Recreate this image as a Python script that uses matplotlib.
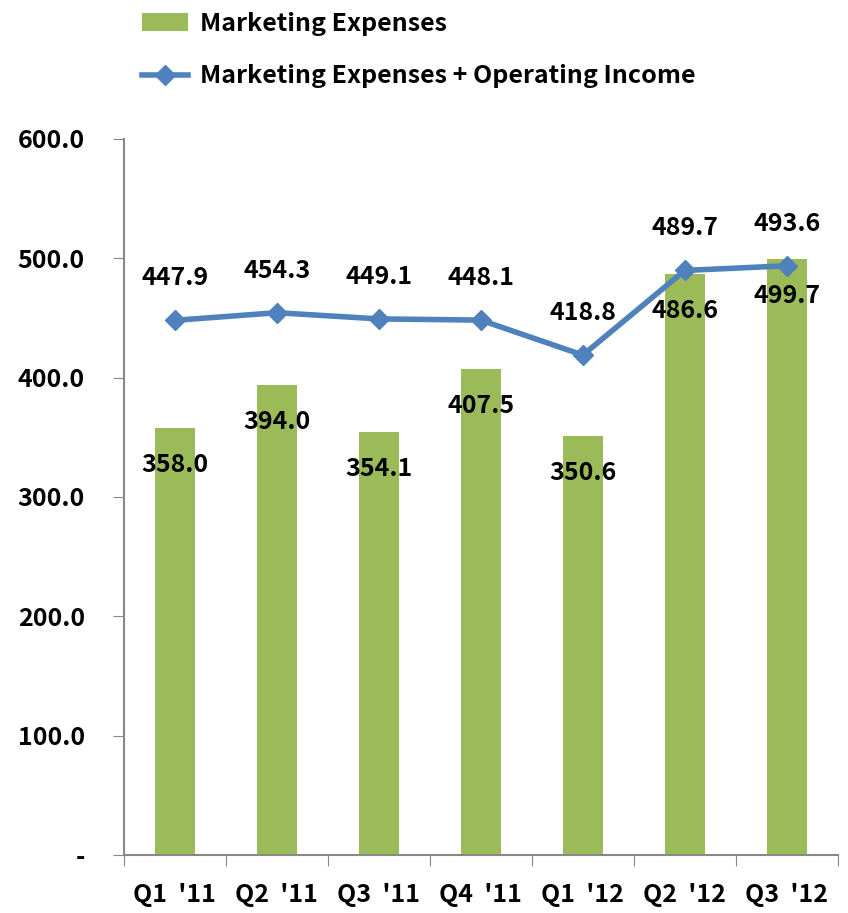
import numpy as np
import matplotlib
matplotlib.use("Agg")
import matplotlib.pyplot as plt

plt.rcParams['font.family'] = ['Noto Sans CJK KR', 'DejaVu Sans']
plt.rcParams['font.weight'] = 'bold'

quarters = ["Q1 '11", "Q2 '11", "Q3 '11", "Q4 '11", "Q1 '12", "Q2 '12", "Q3 '12"]
marketing = [358.0, 394.0, 354.1, 407.5, 350.6, 486.6, 499.7]
mkt_plus_oi = [447.9, 454.3, 449.1, 448.1, 418.8, 489.7, 493.6]
yticks = [0, 100, 200, 300, 400, 500, 600]
ytick_labels = ["-", "100.0", "200.0", "300.0", "400.0", "500.0", "600.0"]

green = "#9BBB59"
blue = "#4F81BD"
fs = 18

fig = plt.figure(figsize=(8.48, 9.13), dpi=100)
ax = fig.add_axes([0.146, 0.0635, 0.842, 0.7845])

x = np.arange(len(quarters))
bars = ax.bar(x, marketing, width=0.39, color=green, label="Marketing Expenses", zorder=2)
line, = ax.plot(x, mkt_plus_oi, color=blue, lw=4, marker="D", ms=10,
                label="Marketing Expenses + Operating Income", zorder=3)

# value labels: bars just under the top, line just above the point
for xi, v in zip(x, marketing):
    ax.annotate(f"{v:.1f}", (xi, v), xytext=(0, -37), textcoords="offset pixels",
                ha="center", va="center", fontsize=fs, fontweight="bold", zorder=4)
for xi, v in zip(x, mkt_plus_oi):
    ax.annotate(f"{v:.1f}", (xi, v), xytext=(0, 42), textcoords="offset pixels",
                ha="center", va="center", fontsize=fs, fontweight="bold", zorder=4)

ax.set_xlim(-0.5, len(quarters) - 0.5)
ax.set_ylim(0, 600)
ax.set_yticks(yticks)
ax.set_yticklabels(ytick_labels, fontsize=fs, fontweight="bold")
ax.set_xticks(np.arange(len(quarters) + 1) - 0.5)
ax.set_xticklabels([])
ax.set_xticks(x, minor=True)
ax.set_xticklabels([q.replace(" ", "  ") for q in quarters], minor=True,
                   fontsize=fs, fontweight="bold")
ax.tick_params(axis="x", which="major", length=8, color="#888888", direction="out")
ax.tick_params(axis="x", which="minor", length=0, pad=20)
ax.tick_params(axis="y", length=8, color="#888888", pad=20)

for s in ["top", "right"]:
    ax.spines[s].set_visible(False)
for s in ["left", "bottom"]:
    ax.spines[s].set_color("#888888")
    ax.spines[s].set_linewidth(1.5)

fig.legend([bars, line], [bars.get_label(), line.get_label()],
           loc="upper left", bbox_to_anchor=(0.141, 1.012), frameon=False,
           prop={"size": fs, "weight": "bold"}, handlelength=1.85, handletextpad=0.45,
           labelspacing=1.15)

fig.savefig("out.png", dpi=100)
